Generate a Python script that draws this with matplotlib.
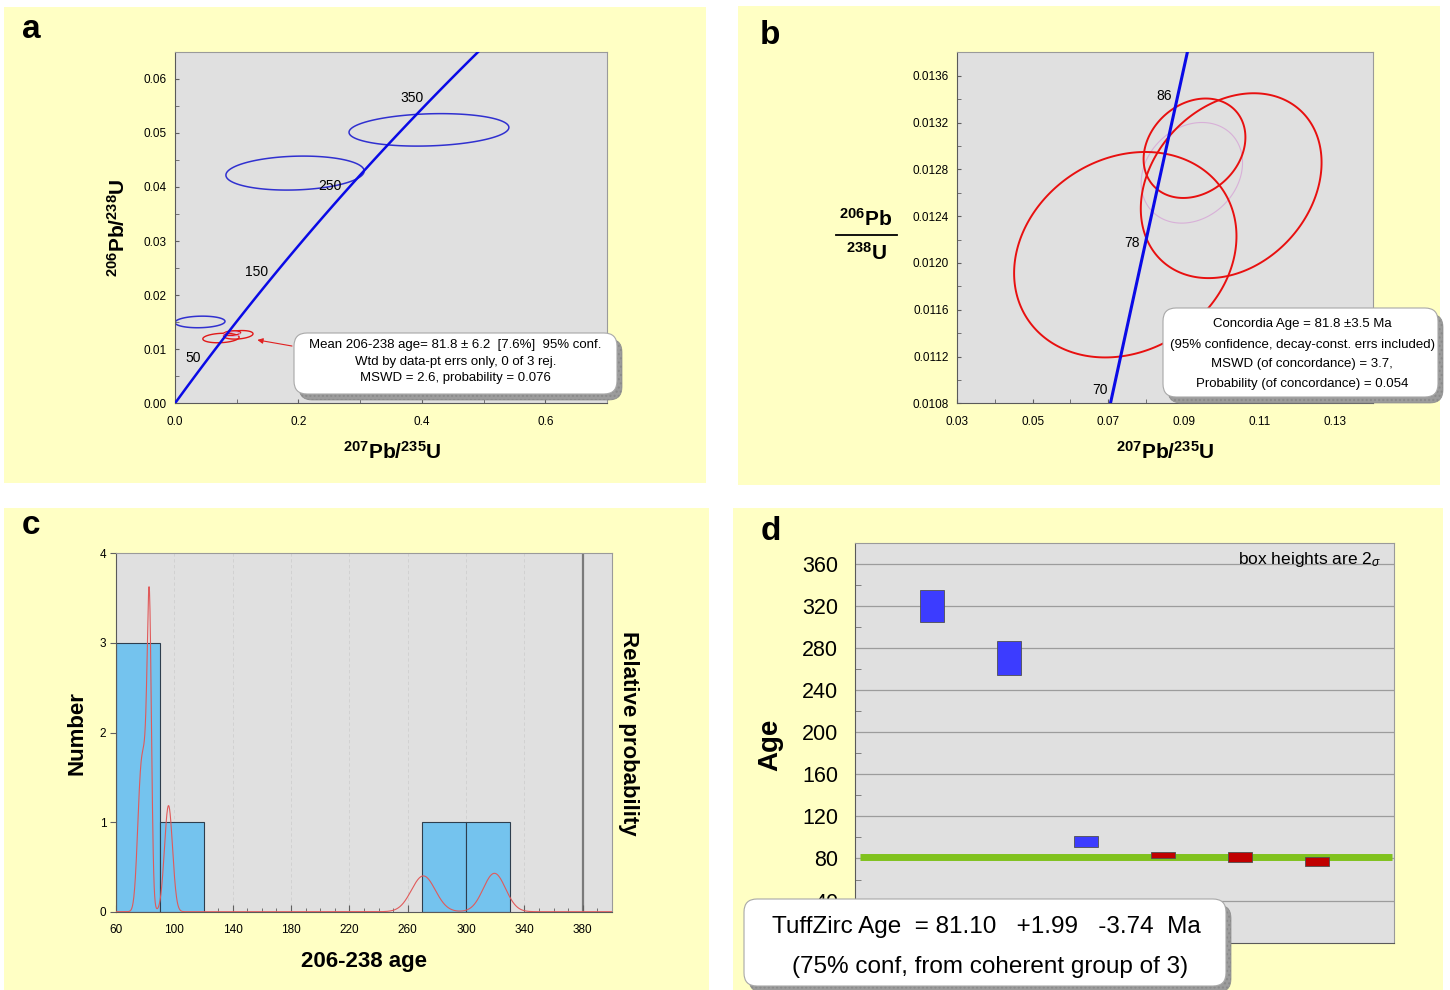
import numpy as np
import matplotlib.pyplot as plt
from matplotlib.patches import Rectangle, FancyBboxPatch, Polygon
from matplotlib.lines import Line2D
from matplotlib.ticker import MultipleLocator, FormatStrFormatter

plt.rcParams["font.family"] = "Liberation Sans"
plt.rcParams["mathtext.fontset"] = "custom"
plt.rcParams["mathtext.rm"] = "Liberation Sans"
plt.rcParams["mathtext.it"] = "Liberation Sans:italic"
plt.rcParams["mathtext.bf"] = "Liberation Sans:bold"

W, H = 1450, 990

# U decay constants (1/yr)
L238 = 1.55125e-10
L235 = 9.8485e-10

# error ellipses: centre (207Pb/235U, 206Pb/238U), half extents, error correlation
blue_x = [0.0405, 0.1945, 0.4115]
blue_y = [0.01504, 0.04256, 0.05055]
blue_sx = [0.0405, 0.112, 0.1295]
blue_sy = [0.00107, 0.00314, 0.0030]
blue_rho = [0.10, 0.12, 0.15]

red_x = [0.0745, 0.0928, 0.1025]
red_y = [0.01207, 0.01298, 0.01266]
red_sx = [0.0294, 0.01346, 0.0239]
red_sy = [0.000878, 0.000425, 0.00079]
red_rho = [0.18, 0.22, 0.25]

# concordia-age ellipse
cage_x, cage_y, cage_sx, cage_sy, cage_rho = 0.0921, 0.01277, 0.0134, 0.00043, 0.20

ticks_a = [50, 150, 250, 350]
ticks_b = [70, 78, 86]

# 206-238 ages and 2-sigma errors (Ma)
ages = [319.4, 270.7, 96.0, 83.0, 81.3, 77.0]
err2s = [15.2, 16.3, 5.5, 2.7, 4.4, 4.6]
coherent = [False, False, False, True, True, True]
tuffzirc_age = 81.10
hist_bins = np.arange(60, 400, 30)

YELLOW = "#ffffc4"
FACE = "#e0e0e0"


def px_axes(l, t, r, b):
    return fig.add_axes([l / W, 1 - b / H, (r - l) / W, (b - t) / H])


def ftext(px, py, s, **kw):
    fig.text(px / W, 1 - py / H, s, **kw)


def draw_ellipse(ax, cx, cy, sx, sy, rho, color, lw, n=240):
    th = np.linspace(0, 2 * np.pi, n, endpoint=False)
    ex = cx + sx * np.cos(th)
    ey = cy + sy * (rho * np.cos(th) + np.sqrt(1 - rho ** 2) * np.sin(th))
    ax.add_patch(Polygon(np.column_stack([ex, ey]), closed=True, fill=False,
                         ec=color, lw=lw, zorder=2))


def concordia(t_ma):
    t = np.asarray(t_ma) * 1e6
    return np.exp(L235 * t) - 1, np.exp(L238 * t) - 1


def note_box(l, t, r, b):
    x0, y0, w, h = l / 100, (H - b) / 100, (r - l) / 100, (b - t) / 100
    style = "round,pad=0,rounding_size=0.13"
    sh = FancyBboxPatch((x0 + 0.05, y0 - 0.06), w, h, boxstyle=style,
                        transform=fig.dpi_scale_trans, fc="#9c9c9c", ec="#8a8a8a",
                        lw=0.5, hatch="....", zorder=5)
    bx = FancyBboxPatch((x0, y0), w, h, boxstyle=style, transform=fig.dpi_scale_trans,
                        fc="white", ec="#a8a8a8", lw=0.8, zorder=6)
    fig.add_artist(sh)
    fig.add_artist(bx)


def style_spines(ax):
    ax.set_facecolor(FACE)
    ax.spines["left"].set_color("#5a5a5a")
    ax.spines["bottom"].set_color("#5a5a5a")
    ax.spines["top"].set_color("#9a9a9a")
    ax.spines["right"].set_color("#9a9a9a")


fig = plt.figure(figsize=(W / 100, H / 100), dpi=100)
fig.patch.set_facecolor("white")

for l, t, r, b in [(4, 7, 706, 483), (738, 6, 1440, 485), (4, 508, 709, 990), (733, 508, 1443, 990)]:
    fig.add_artist(Rectangle((l / W, 1 - b / H), (r - l) / W, (b - t) / H,
                             transform=fig.transFigure, fc=YELLOW, ec="none", zorder=-10))

for px, py, s in [(31, 29, "a"), (770, 36, "b"), (31, 526, "c"), (771, 531, "d")]:
    ftext(px, py, s, fontsize=24, fontweight="bold", ha="center", va="center")

# ---- a: full concordia ----
axa = px_axes(175, 51.7, 607, 403.3)
style_spines(axa)
cx, cy = concordia(np.arange(0, 431, 5))
axa.plot(cx, cy, color="#0a0ae6", lw=1.8, zorder=3)
for i in range(3):
    draw_ellipse(axa, blue_x[i], blue_y[i], blue_sx[i], blue_sy[i], blue_rho[i], "#3030d0", 1.1)
for i in range(3):
    draw_ellipse(axa, red_x[i], red_y[i], red_sx[i], red_sy[i], red_rho[i], "#e01818", 1.0)
draw_ellipse(axa, cage_x, cage_y, cage_sx, cage_sy, cage_rho, "#d8a0d8", 0.6)
for t in ticks_a:
    x, y = concordia(t)
    axa.annotate(str(t), (x, y), xytext=(-4, 2.5), textcoords="offset points",
                 ha="right", va="center", fontsize=10)
axa.annotate("", xy=(0.129, 0.0118), xytext=(0.194, 0.0105),
             arrowprops=dict(arrowstyle="-|>", color="#e02020", lw=0.8, mutation_scale=8))
axa.set_xlim(0, 0.7)
axa.set_ylim(0, 0.065)
axa.xaxis.set_major_locator(MultipleLocator(0.2))
axa.xaxis.set_minor_locator(MultipleLocator(0.1))
axa.yaxis.set_major_locator(MultipleLocator(0.01))
axa.yaxis.set_minor_locator(MultipleLocator(0.005))
axa.xaxis.set_major_formatter(FormatStrFormatter("%.1f"))
axa.yaxis.set_major_formatter(FormatStrFormatter("%.2f"))
axa.tick_params(which="both", direction="in", length=3, color="#606060", labelsize=8.5)
axa.tick_params(axis="x", pad=9)
axa.tick_params(axis="y", pad=6)
ftext(392, 452, r"$\mathbf{^{207}Pb/^{235}U}$", fontsize=15, ha="center", va="center")
ftext(118, 228, r"$\mathbf{^{206}Pb/^{238}U}$", fontsize=15, ha="center", va="center", rotation=90)

note_box(294, 333, 617, 394)
for py, s in [(345, "Mean 206-238 age= 81.8 ± 6.2  [7.6%]  95% conf."),
              (361.5, "Wtd by data-pt errs only, 0 of 3 rej."),
              (378, "MSWD = 2.6, probability = 0.076")]:
    ftext(455.5, py, s, fontsize=9.5, ha="center", va="center", zorder=7)

# ---- b: concordia detail ----
axb = px_axes(957, 52.3, 1373, 403.3)
style_spines(axb)
cx, cy = concordia(np.arange(60, 100.5, 0.5))
axb.plot(cx, cy, color="#0a0ae6", lw=2.2, zorder=3)
draw_ellipse(axb, cage_x, cage_y, cage_sx, cage_sy, cage_rho, "#d8b0d8", 0.8)
for i in range(3):
    draw_ellipse(axb, red_x[i], red_y[i], red_sx[i], red_sy[i], red_rho[i], "#e81010", 1.4)
for t in ticks_b:
    x, y = concordia(t)
    axb.annotate(str(t), (x, y), xytext=(-4, 0), textcoords="offset points",
                 ha="right", va="center", fontsize=10)
axb.set_xlim(0.03, 0.14)
axb.set_ylim(0.0108, 0.0138)
axb.set_xticks([0.03, 0.05, 0.07, 0.09, 0.11, 0.13])
axb.xaxis.set_minor_locator(MultipleLocator(0.01))
axb.yaxis.set_major_locator(MultipleLocator(0.0004))
axb.yaxis.set_minor_locator(MultipleLocator(0.0002))
axb.xaxis.set_major_formatter(FormatStrFormatter("%.2f"))
axb.yaxis.set_major_formatter(FormatStrFormatter("%.4f"))
axb.tick_params(which="both", direction="in", length=3, color="#606060", labelsize=8.5)
axb.tick_params(axis="x", pad=9)
axb.tick_params(axis="y", pad=6)
ftext(1165, 452, r"$\mathbf{^{207}Pb/^{235}U}$", fontsize=15, ha="center", va="center")
ftext(866, 219, r"$\mathbf{^{206}Pb}$", fontsize=15, ha="center", va="center")
ftext(866, 253, r"$\mathbf{^{238}U}$", fontsize=15, ha="center", va="center")
fig.add_artist(Line2D([836 / W, 897 / W], [1 - 235 / H, 1 - 235 / H], color="black", lw=1.3))

note_box(1163, 308, 1438, 397)
for py, s in [(324.5, "Concordia Age = 81.8 ±3.5 Ma"),
              (344.5, "(95% confidence, decay-const. errs included)"),
              (364.5, "MSWD (of concordance) = 3.7,"),
              (384.5, "Probability (of concordance) = 0.054")]:
    ftext(1302, py, s, fontsize=9.5, ha="center", va="center", zorder=7)

# ---- c: histogram + relative probability ----
axc = px_axes(116, 553.3, 612, 911.7)
style_spines(axc)
counts, edges = np.histogram(ages, bins=hist_bins)
for n, e0, e1 in zip(counts, edges[:-1], edges[1:]):
    if n > 0:
        axc.bar(e0, n, width=e1 - e0, align="edge", color="#74c3ee",
                edgecolor="#2e3e4e", lw=0.8, zorder=2)
for gx in range(100, 380, 40):
    axc.axvline(gx, color="#cfcfcf", lw=0.6, ls=(0, (4, 3)), zorder=1)
axc.axvline(380, color="#7a7a7a", lw=1.6, zorder=1)
axc.set_xlim(60, 400)
axc.set_ylim(0, 4)
axc.set_xticks(np.arange(60, 400, 40))
axc.xaxis.set_minor_locator(MultipleLocator(10))
axc.yaxis.set_major_locator(MultipleLocator(1))
axc.tick_params(axis="x", which="major", direction="in", length=5, color="#606060", labelsize=8.5, pad=9)
axc.tick_params(axis="x", which="minor", direction="in", length=3, color="#606060")
axc.tick_params(axis="y", direction="out", length=4, color="#606060", labelsize=8.5, pad=3)

sig = np.array(err2s) / 2
xs = np.linspace(60, 400, 2000)
dens = np.zeros_like(xs)
for a, s in zip(ages, sig):
    dens += np.exp(-0.5 * ((xs - a) / s) ** 2) / (s * np.sqrt(2 * np.pi))
axp = axc.twinx()
axp.plot(xs, dens, color="#e05a5a", lw=0.8, zorder=3)
axp.set_ylim(0, 0.49)
axp.set_yticks([])
for sp in axp.spines.values():
    sp.set_visible(False)

ftext(77, 733, "Number", fontsize=16, fontweight="bold", ha="center", va="center", rotation=90)
ftext(628, 733, "Relative probability", fontsize=16, fontweight="bold", ha="center",
      va="center", rotation=-90)
ftext(364, 961, "206-238 age", fontsize=16, fontweight="bold", ha="center", va="center")

# ---- d: TuffZirc age boxes ----
axd = px_axes(855, 542.7, 1394, 942.7)
style_spines(axd)
axd.set_xlim(0, 7)
axd.set_ylim(0, 380)
axd.set_yticks(np.arange(40, 361, 40))
axd.yaxis.set_minor_locator(MultipleLocator(20))
axd.set_xticks([])
axd.yaxis.grid(True, color="#9c9c9c", lw=0.9)
axd.set_axisbelow(True)
axd.tick_params(axis="y", which="major", length=0, labelsize=15.5, pad=12)
axd.tick_params(axis="y", which="minor", direction="in", length=4, color="#707070")
axd.hlines(tuffzirc_age, 0.07, 6.98, color="#80c21e", lw=5, zorder=2)
for i, (a, e, g) in enumerate(zip(ages, err2s, coherent)):
    axd.add_patch(Rectangle((i + 1 - 0.15, a - e), 0.3, 2 * e,
                            fc="#c00000" if g else "#3c3cff", ec="#505050", lw=0.6, zorder=3))
axd.text(0.977, 0.957, r"box heights are 2$_{\sigma}$", transform=axd.transAxes,
         ha="right", va="center", fontsize=12.5)
ftext(770, 745, "Age", fontsize=20, fontweight="bold", ha="center", va="center", rotation=90)

note_box(744, 899, 1226, 986)
ftext(986, 927, "TuffZirc Age  = 81.10   +1.99   -3.74  Ma", fontsize=17.5,
      ha="center", va="center", zorder=7)
ftext(990, 967, "(75% conf, from coherent group of 3)", fontsize=17.5,
      ha="center", va="center", zorder=7)

fig.savefig("out.png", dpi=100)
